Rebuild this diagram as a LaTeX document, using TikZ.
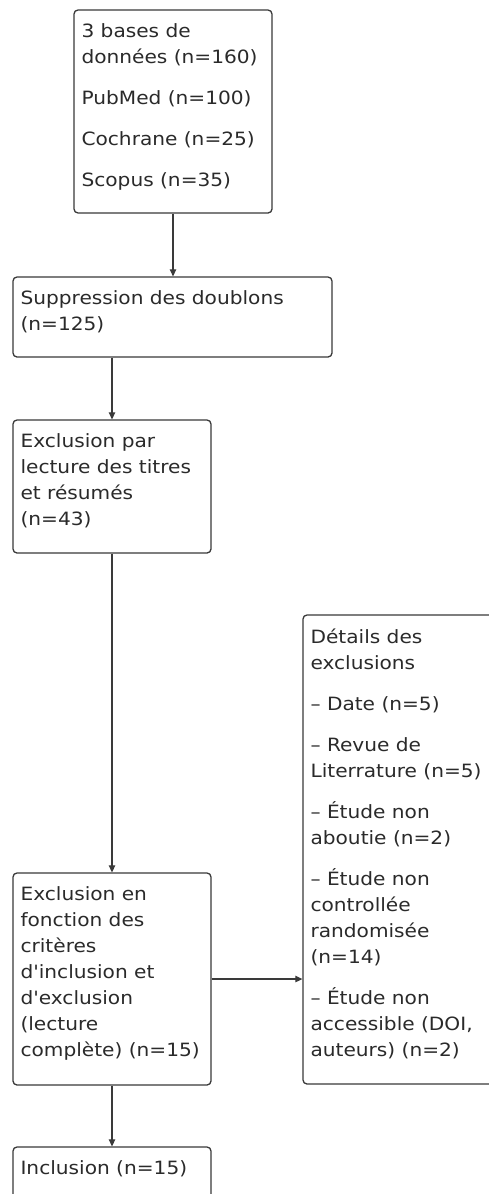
\documentclass[tikz,border=0pt]{standalone}
\usepackage{fontspec}
\newfontfamily\dfont{DejaVu Sans}[FakeStretch=1.1]
\usetikzlibrary{arrows.meta}
\definecolor{boxline}{HTML}{3A3A3A}
\definecolor{txt}{HTML}{2A2A2A}
\begin{document}
\begin{tikzpicture}[x=1pt,y=-1pt,
  box/.style={draw=boxline, line width=1.3pt, rounded corners=4pt, inner sep=0pt, fill=white},
  label/.style={anchor=north west, inner sep=0pt, align=left, text=txt,
    font=\dfont\fontsize{18.3}{26}\selectfont},
  arr/.style={draw=boxline, line width=1.2pt, -{Triangle[width=6.5pt,length=7pt]}}]
\clip (0,0) rectangle (489,1194);
\fill[white] (0,0) rectangle (489,1194);
% boxes
\node[box, minimum width=198pt, minimum height=203pt] (b1) at (173,111.5) {};
\node[box, minimum width=319pt, minimum height=80pt] (b2) at (172.5,317) {};
\node[box, minimum width=198pt, minimum height=133pt] (b3) at (112,486.5) {};
\node[box, minimum width=198pt, minimum height=212pt] (b4) at (112,979) {};
\node[box, minimum width=198pt, minimum height=120pt] (b5) at (112,1207) {};
\node[box, minimum width=240pt, minimum height=469pt] (b6) at (423,849.5) {};
% texts
\node[label] (t1) at ([xshift=8pt,yshift=-14pt]b1.north west)
  {3 bases de\\données (n=160)\\[15pt]PubMed (n=100)\\[15pt]Cochrane (n=25)\\[15pt]Scopus (n=35)};
\node[label] (t2) at ([xshift=8pt,yshift=-14pt]b2.north west)
  {Suppression des doublons\\(n=125)};
\node[label] (t3) at ([xshift=8pt,yshift=-14pt]b3.north west)
  {Exclusion par\\lecture des titres\\et résumés\\(n=43)};
\node[label] (t4) at ([xshift=8pt,yshift=-14pt]b4.north west)
  {Exclusion en\\fonction des\\critères\\d'inclusion et\\d'exclusion\\(lecture\\complète) (n=15)};
\node[label] (t5) at ([xshift=8pt,yshift=-14pt]b5.north west)
  {Inclusion (n=15)};
\node[label] (t6) at ([xshift=8pt,yshift=-14pt]b6.north west)
  {Détails des\\exclusions\\[15pt]– Date (n=5)\\[15pt]– Revue de\\Literrature (n=5)\\[15pt]– Étude non\\aboutie (n=2)\\[15pt]– Étude non\\controllée\\randomisée\\(n=14)\\[15pt]– Étude non\\accessible (DOI,\\auteurs) (n=2)};
% connectors
\draw[arr] (b1.south) -- (b2.north -| b1.south);
\draw[arr] (b2.south -| b3.north) -- (b3.north);
\draw[arr] (b3.south) -- (b4.north);
\draw[arr] (b4.east) -- (b4.east -| b6.west);
\draw[arr] (b4.south) -- (b5.north);
\end{tikzpicture}
\end{document}
